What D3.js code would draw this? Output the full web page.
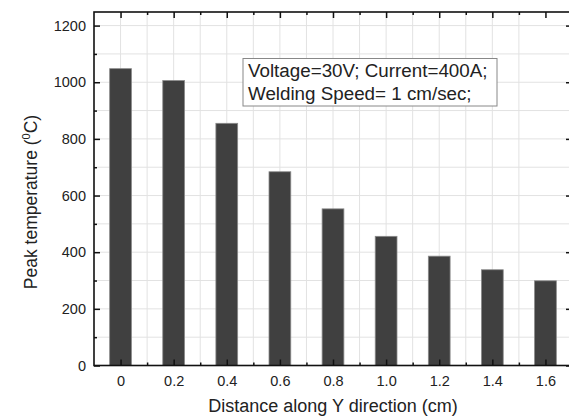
<!DOCTYPE html>
<html><head><meta charset="utf-8">
<script src="https://cdn.jsdelivr.net/npm/d3@7"></script>
<style>body{margin:0;background:#fff}svg{display:block}text{font-family:"Liberation Sans",Arial,sans-serif;fill:#222}</style>
</head><body>
<script>
const categories = [0, 0.2, 0.4, 0.6, 0.8, 1.0, 1.2, 1.4, 1.6];
const peakTemps = [1048, 1006, 855, 684, 553, 456, 386, 338, 299];
const xTickLabels = ["0", "0.2", "0.4", "0.6", "0.8", "1.0", "1.2", "1.4", "1.6"];
const yTicks = [0, 200, 400, 600, 800, 1000, 1200];
const noteLines = ["Voltage=30V; Current=400A;", "Welding Speed= 1 cm/sec;"];

const W = 569, H = 417;
const m = {l: 94, t: 12, r: 572, b: 365.5};
const svg = d3.select("body").append("svg").attr("width", W).attr("height", H);
const x = d3.scaleLinear().domain([-0.1, 1.7]).range([m.l, m.r]);
const y = d3.scaleLinear().domain([0, 1248]).range([m.b, m.t]);

// grid
const xg = d3.range(0, 17).map(i => -0.1 + i * 0.1).filter(v => v > -0.09);
const yg = d3.range(1, 13).map(i => i * 100);
const g = svg.append("g");
g.selectAll(".vg").data(xg).join("line")
  .attr("x1", d => x(d)).attr("x2", d => x(d)).attr("y1", m.t).attr("y2", m.b)
  .attr("stroke", "#e2e2e2").attr("stroke-width", 1);
g.selectAll(".hg").data(yg).join("line")
  .attr("x1", m.l).attr("x2", m.r).attr("y1", d => y(d)).attr("y2", d => y(d))
  .attr("stroke", "#e2e2e2").attr("stroke-width", 1);

// bars
const bw = x(0.082) - x(0);
svg.selectAll(".bar").data(categories).join("rect")
  .attr("x", (d) => x(d) - bw / 2).attr("width", bw)
  .attr("y", (d, i) => y(peakTemps[i])).attr("height", (d, i) => y(0) - y(peakTemps[i]))
  .attr("fill", "#404040").attr("stroke", "#8a8a8a").attr("stroke-width", 0.8);

// axes
const majorX = categories;
const minorX = d3.range(0, 17).map(i => -0.1 + i * 0.2).filter(v => v > -0.05);
const ax = svg.append("g").attr("transform", `translate(0,${m.b})`)
  .call(d3.axisBottom(x).tickValues(majorX).tickFormat((d, i) => xTickLabels[i]).tickSizeInner(-6).tickSizeOuter(0).tickPadding(10));
ax.append("g").call(d3.axisBottom(x).tickValues(minorX).tickFormat("").tickSizeInner(-3).tickSizeOuter(0));
const axT = svg.append("g").attr("transform", `translate(0,${m.t})`)
  .call(d3.axisTop(x).tickValues(majorX).tickFormat("").tickSizeInner(-6).tickSizeOuter(0));
axT.append("g").call(d3.axisTop(x).tickValues(minorX).tickFormat("").tickSizeInner(-3).tickSizeOuter(0));
const minorY = d3.range(0, 13).map(i => 100 + i * 200).filter(v => v < 1248);
const ay = svg.append("g").attr("transform", `translate(${m.l},0)`)
  .call(d3.axisLeft(y).tickValues(yTicks).tickFormat(d3.format("d")).tickSizeInner(-6).tickSizeOuter(0).tickPadding(8));
ay.append("g").call(d3.axisLeft(y).tickValues(minorY).tickFormat("").tickSizeInner(-3).tickSizeOuter(0));
const ayR = svg.append("g").attr("transform", `translate(${m.r},0)`)
  .call(d3.axisRight(y).tickValues(yTicks).tickFormat("").tickSizeInner(-6).tickSizeOuter(0));
ayR.append("g").call(d3.axisRight(y).tickValues(minorY).tickFormat("").tickSizeInner(-3).tickSizeOuter(0));
svg.selectAll(".domain").remove();
svg.selectAll(".tick line").attr("stroke", "#111").attr("stroke-width", 1.5);
svg.selectAll(".tick text").attr("font-size", 14.5).attr("fill", "#222").attr("font-family", "Liberation Sans, Arial, sans-serif");
svg.append("rect").attr("x", m.l).attr("y", m.t).attr("width", m.r - m.l).attr("height", m.b - m.t)
  .attr("fill", "none").attr("stroke", "#111").attr("stroke-width", 1.6);

// labels
svg.append("text").attr("x", (m.l + m.r) / 2).attr("y", 411.5).attr("text-anchor", "middle")
  .attr("font-size", 18).text("Distance along Y direction (cm)");
const yl = svg.append("text").attr("transform", "translate(37,202) rotate(-90)").attr("text-anchor", "middle").attr("font-size", 17.5);
yl.append("tspan").text("Peak temperature (");
yl.append("tspan").attr("font-size", 11).attr("dy", -7).text("0");
yl.append("tspan").attr("dy", 7).text("C)");

// note box
svg.append("rect").attr("x", 243).attr("y", 58.5).attr("width", 254).attr("height", 47.5)
  .attr("fill", "#fff").attr("stroke", "#888").attr("stroke-width", 1);
svg.selectAll(".note").data(noteLines).join("text")
  .attr("x", 248).attr("y", (d, i) => 77 + i * 23).attr("font-size", 18.8).text(d => d);
</script>
</body></html>
